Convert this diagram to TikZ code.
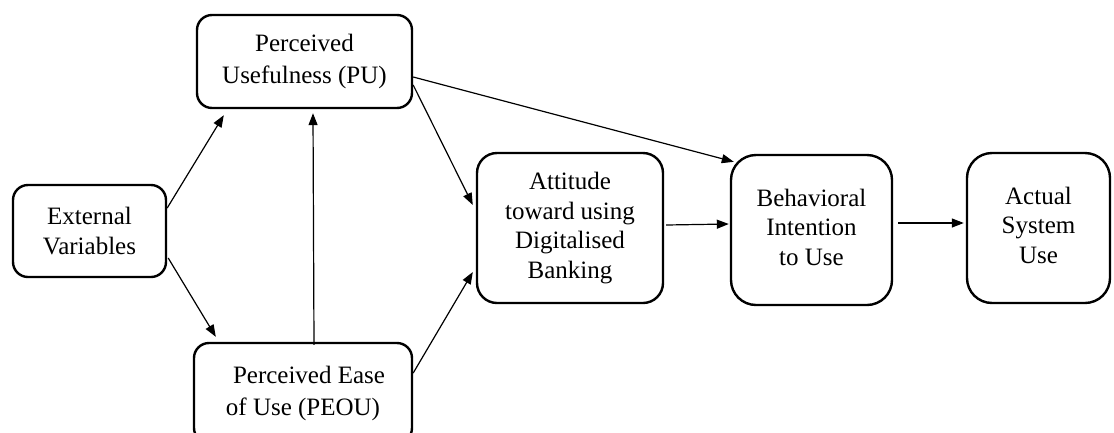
\documentclass[tikz,border=0pt]{standalone}
\usepackage{fontspec}
\setmainfont{Liberation Serif}
\usetikzlibrary{arrows.meta,calc}
\newcommand{\boxlines}[1]{\begin{tabular}{@{}c@{}}#1\end{tabular}}
\begin{document}
\begin{tikzpicture}[x=1pt,y=-1pt,
  box/.style={draw, line width=2.4pt, rounded corners=15pt, align=center,
    inner sep=0pt, font=\fontsize{25}{29.5}\selectfont},
  widebox/.style={box, font=\fontsize{25}{32}\selectfont},
  conn/.style={line width=1.2pt, -{Triangle[length=12pt,width=9pt]}}]
\useasboundingbox (0,0) rectangle (1114,432);
\clip (0,0) rectangle (1114,432);
\fill[white] (0,0) rectangle (1114,432);
\node[box, minimum width=153pt, minimum height=92pt] (ev) at (89.5,231) {External\\Variables};
\node[widebox, minimum width=215pt, minimum height=93pt] (pu) at (304.5,61.5) {\raisebox{3pt}{\boxlines{Perceived\\Usefulness (PU)}}};
\node[widebox, minimum width=218pt, minimum height=100pt] (peou) at (303,393) {\hspace*{12pt}Perceived Ease\\of Use (PEOU)};
\node[box, rounded corners=20pt, minimum width=186pt, minimum height=150pt] (att) at (570,228) {Attitude\\toward using\\Digitalised\\Banking};
\node[box, rounded corners=25pt, minimum width=161pt, minimum height=150pt] (bi) at (811.5,230) {\raisebox{7pt}{\boxlines{Behavioral\\Intention\\to Use}}};
\node[box, rounded corners=25pt, minimum width=143pt, minimum height=150pt] (asu) at (1038.5,228) {\raisebox{7pt}{\boxlines{Actual\\System\\Use}}};
\draw[conn] ($(ev.east)+(0,-23)$) -- ($(pu.south west)+(28,6)$);
\draw[conn] ($(ev.east)+(1,27)$) -- ($(peou.north west)+(23,-5)$);
\draw[conn] ($(peou.north)+(11,3)$) -- ($(pu.south)+(8.5,4)$);
\draw[conn] ($(pu.east)+(0,23.5)$) -- ($(att.west)+(-3,-23)$);
\draw[conn] ($(peou.east)+(0,-20)$) -- ($(att.west)+(-3,44)$);
\draw[conn] ($(pu.east)+(0,15.5)$) -- ($(bi.north west)+(4,8)$);
\draw[conn] ($(att.east)+(2,-3)$) -- ($(bi.west)+(-1,-6)$);
\draw[conn] ($(bi.east)+(5,-7)$) -- ($(asu.west)+(-2,-5)$);
\end{tikzpicture}
\end{document}
